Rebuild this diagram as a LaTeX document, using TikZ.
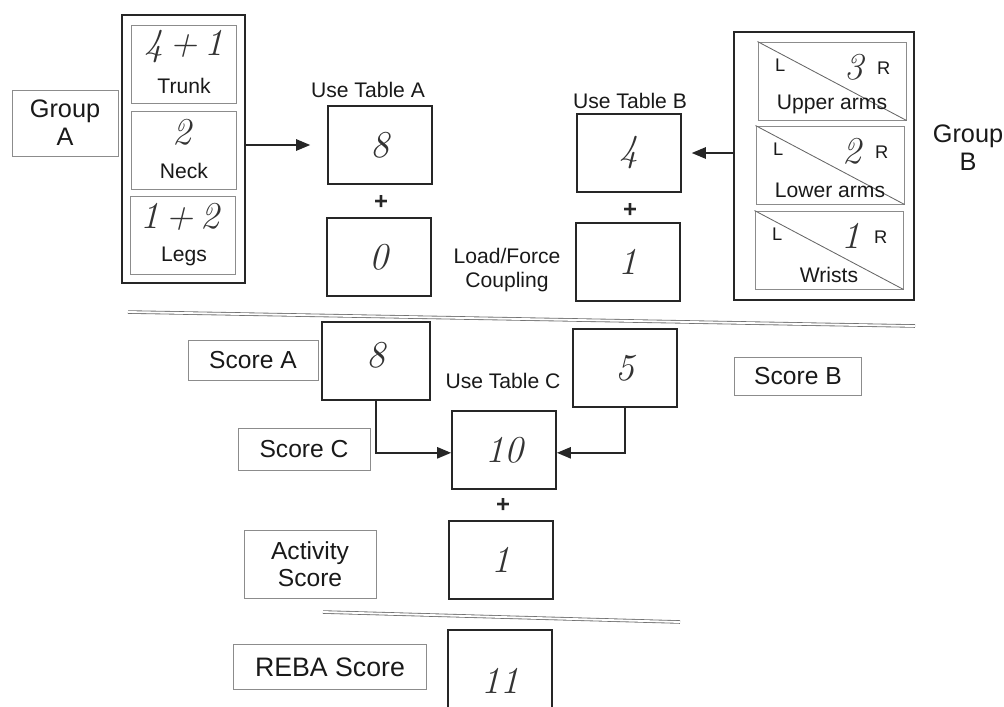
\documentclass[tikz,border=0pt]{standalone}
\usepackage{fontspec}
\usepackage{tikz}
\usetikzlibrary{arrows.meta, positioning, calc}
\newfontfamily\sansfont{Liberation Sans}

\tikzset{
  lbl/.style={draw=black!45, line width=0.5pt, align=center, inner sep=0pt,
    text=black!90, font=\sansfont\fontsize{17.5}{19}\selectfont},
  valbox/.style={draw=black!85, line width=1.2pt, minimum width=2.6cm,
    minimum height=1.95cm, inner sep=0pt},
  partbox/.style={draw=black!45, line width=0.6pt, minimum width=2.63cm,
    minimum height=1.95cm, inner sep=0pt},
  armbox/.style={partbox, minimum width=3.7cm},
  grpbox/.style={draw=black!85, line width=1.5pt, inner sep=0pt},
  hand/.style={font=\itshape\fontsize{27}{29}\selectfont, text=black!80},
  captxt/.style={font=\sansfont\fontsize{15}{17}\selectfont, text=black!90, align=center},
  plustxt/.style={font=\sansfont\bfseries\fontsize{17}{19}\selectfont, text=black!85},
  side/.style={font=\sansfont\fontsize{13}{15}\selectfont, text=black!90},
  sep/.style={draw=black!55, double, double distance=1.3pt, line width=0.6pt},
  arr/.style={-{Triangle[length=10pt,width=8pt]}, line width=1.3pt, draw=black!85},
}

\begin{document}
\begin{tikzpicture}[x=0.025cm, y=-0.025cm]
  \useasboundingbox (0,0) rectangle (1004,706);

  % Group A: trunk, neck, legs
  \node[lbl, minimum width=2.65cm, minimum height=1.65cm,
    font=\sansfont\fontsize{18}{20}\selectfont] (grpAlbl) at (65,123) {Group\\A};
  \node[grpbox, minimum width=3.075cm, minimum height=6.7cm] (grpA) at (183.5,149) {};
  \node[partbox] (trunk) at (184,64) {};
  \node[partbox] (neck) at (184,150) {};
  \node[partbox] (legs) at (183,235) {};
  \node[hand] (trunkv) at (184,47) {4\,+\,1};
  \node[captxt] (trunkt) at (184,86) {Trunk};
  \node[hand] (neckv) at (182,132) {2};
  \node[captxt] (neckt) at (184,171) {Neck};
  \node[hand] (legsv) at (180,217) {1\,+\,2};
  \node[captxt] (legst) at (184,256) {Legs};

  % Table A column
  \node[captxt] (useA) at (368,90) {Use Table A};
  \node[valbox] (tabA) at (380,145) {};
  \node[hand] at (tabA) {8};
  \node[plustxt] (plusA) at (381,202) {+};
  \node[valbox] (zeroA) at (379,257) {};
  \node[hand] at (zeroA) {0};

  % Table B column
  \node[captxt] (useB) at (630,101) {Use Table B};
  \node[valbox] (tabB) at (629,153) {};
  \node[hand] at (tabB) {4};
  \node[plustxt] (plusB) at (630,210) {+};
  \node[valbox] (loadB) at (628,262) {};
  \node[hand] at (loadB) {1};
  \node[captxt] (loadt) at (507,270) {Load/Force\\Coupling};

  % Group B: arms and wrists
  \node[grpbox, minimum width=4.5cm, minimum height=6.7cm] (grpB) at (824,166) {};
  \node[armbox] (uarm) at (832,81) {};
  \node[armbox] (larm) at (830,165) {};
  \node[armbox] (wrist) at (829,250) {};
  \foreach \p/\v/\t in {uarm/3/Upper arms, larm/2/Lower arms, wrist/1/Wrists}{
    \draw[black!60, line width=0.6pt] (\p.north west) -- (\p.south east);
    \node[side, anchor=north west] at ([xshift=9pt,yshift=-9pt]\p.north west) {L};
    \node[side, anchor=north east] at ([xshift=-8pt,yshift=-11pt]\p.north east) {R};
    \node[hand] at ([xshift=0.55cm,yshift=0.35cm]\p.center) {\v};
    \node[captxt, anchor=south] at ([yshift=1pt]\p.south) {\t};
  }
  \node[captxt, font=\sansfont\fontsize{18}{20}\selectfont] (grpBlbl) at (968,148) {Group\\B};

  % group scores into the tables
  \draw[arr, shorten >=12pt] (tabA.west -| grpA.east) -- (tabA.west);
  \draw[arr, shorten >=7pt] (tabB.east -| grpB.west) -- (tabB.east);

  \draw[sep] (128,312) -- (915,326);

  % Table C
  \node[lbl, minimum width=3.25cm, minimum height=1cm] (scAlbl) at (253,360) {Score A};
  \node[valbox, minimum width=2.7cm] (scA) at (376,361) {};
  \node[hand] at ([yshift=0.15cm]scA) {8};
  \node[captxt] (useC) at (503,381) {Use Table C};
  \node[valbox] (scB) at (625,368) {};
  \node[hand] at (scB) {5};
  \node[lbl, minimum width=3.18cm, minimum height=0.95cm] (scBlbl) at (798,376) {Score B};
  \node[lbl, minimum width=3.3cm, minimum height=1.05cm] (scClbl) at (304,449) {Score C};
  \node[valbox] (scC) at (504,450) {};
  \node[hand] at (scC) {10};
  \draw[arr] (scA.south) |- ([yshift=-2pt]scC.west);
  \draw[arr] (scB.south) |- ([yshift=-2pt]scC.east);

  % activity and final score
  \node[plustxt] (plusC) at (503,505) {+};
  \node[lbl, minimum width=3.3cm, minimum height=1.7cm] (actlbl) at (310,564) {Activity\\Score};
  \node[valbox] (act) at (501,560) {};
  \node[hand] at (act) {1};
  \draw[sep] (323,612) -- (680,622);
  \node[lbl, minimum width=4.83cm, minimum height=1.13cm,
    font=\sansfont\fontsize{19}{21}\selectfont] (rebalbl) at (330,667) {REBA Score};
  \node[valbox] (reba) at (500,669) {};
  \node[hand] at ([yshift=-0.3cm]reba) {11};
\end{tikzpicture}
\end{document}
